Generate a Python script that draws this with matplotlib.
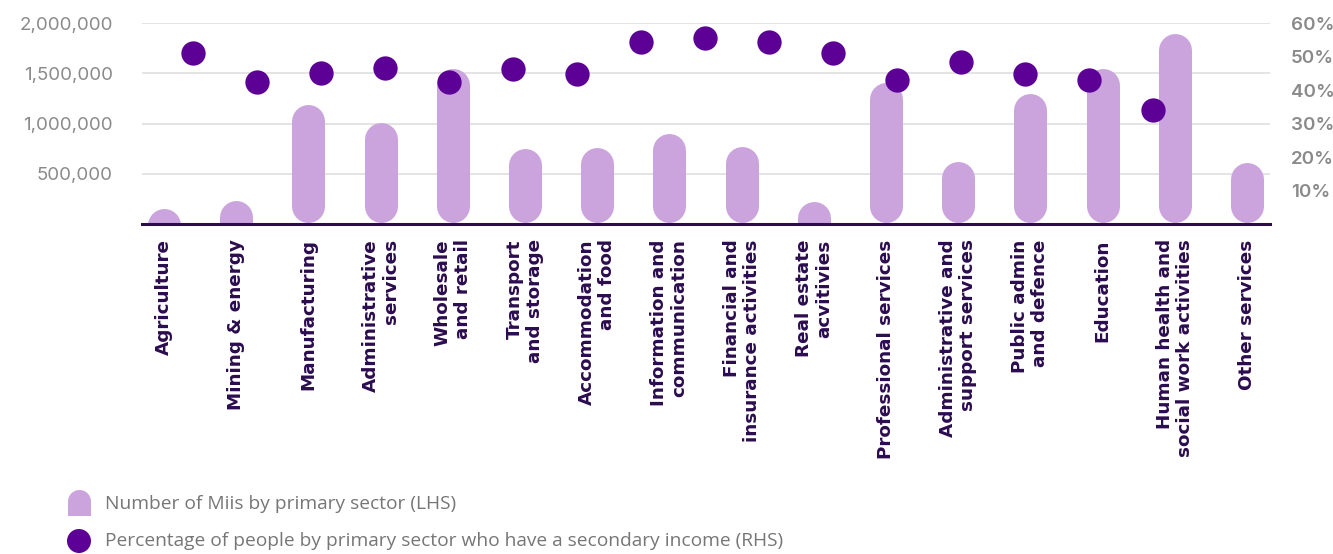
import matplotlib
matplotlib.use("Agg")
import matplotlib.pyplot as plt
from matplotlib.patches import Rectangle, Wedge, Circle

# ---- data -------------------------------------------------------------
sectors = [
    "Agriculture",
    "Mining & energy",
    "Manufacturing",
    "Administrative\nservices",
    "Wholesale\nand retail",
    "Transport\nand storage",
    "Accommodation\nand food",
    "Information and\ncommunication",
    "Financial and\ninsurance activities",
    "Real estate\nacvitivies",
    "Professional services",
    "Administrative and\nsupport services",
    "Public admin\nand defence",
    "Education",
    "Human health and\nsocial work activities",
    "Other services",
]
miis = [150000, 230000, 1190000, 1010000, 1550000, 755000, 765000, 905000,
        775000, 225000, 1410000, 625000, 1305000, 1545000, 1895000, 610000]
secondary_pct = [51.0, 42.4, 45.0, 46.6, 42.5, 46.2, 44.8, 54.3,
                 55.5, 54.4, 51.0, 43.0, 48.5, 44.8, 43.0, 34.0]
lhs_ticks = [500000, 1000000, 1500000, 2000000]
rhs_ticks = [10, 20, 30, 40, 50, 60]

# ---- style ------------------------------------------------------------
BAR = "#cba4de"
DOT = "#5c0096"
INK = "#2b0c4e"
GREY = "#8a8a8a"
GRID = "#e2e2e2"

W, H = 1333, 554
fig = plt.figure(figsize=(W / 100, H / 100), dpi=100)

# plot frame in pixels
pl, pr, pt, pb = 142, 1270, 23.3, 224
rect = [pl / W, 1 - pb / H, (pr - pl) / W, (pb - pt) / H]

YMAX = 2000000
ax = fig.add_axes(rect)
ax.set_xlim(-0.305, 15.318)
ax.set_ylim(0, YMAX)

# rounded "pill" bars drawn as thick round-capped strokes
bar_px = 33
px_to_y = YMAX / (pb - pt)
r = bar_px / 2 * px_to_y
gap = 1.5 * px_to_y
for i, v in enumerate(miis):
    top = v - r
    bottom = r + gap if top > r + gap else top - r
    ax.plot([i, i], [bottom, top], color=BAR, lw=bar_px * 72 / 100,
            solid_capstyle="round", zorder=2)

ax.axhline(0, color=INK, lw=2.2, zorder=4, clip_on=False)
ax.set_yticks(lhs_ticks)
ax.set_yticklabels([f"{t:,}" for t in lhs_ticks])
ax.grid(axis="y", color=GRID, lw=1.3)
ax.set_axisbelow(True)
for s in ax.spines.values():
    s.set_visible(False)
ax.tick_params(axis="y", length=0, pad=21, labelcolor=GREY, labelsize=13.5)
for lab in ax.get_yticklabels():
    lab.set_family("Inter")

ax.set_xticks(range(len(sectors)))
ax.set_xticklabels(sectors, rotation=90, fontsize=13.2, fontweight="bold",
                   color=INK, linespacing=1.15, multialignment="right",
                   family="DejaVu Sans")
ax.tick_params(axis="x", length=0, pad=11)

# percentage series on its own overlay axes (right-hand scale)
axd = fig.add_axes(rect, frameon=False, label="pct")
axd.set_xlim(-0.797, 16.828)
axd.set_ylim(0, 60)
axd.plot(range(len(secondary_pct)), secondary_pct, "o", ms=17.5, color=DOT,
         mec="none", zorder=5, clip_on=False)
axd.patch.set_visible(False)
axd.xaxis.set_visible(False)
axd.yaxis.tick_right()
axd.set_yticks(rhs_ticks)
axd.set_yticklabels([f"{t}%" for t in rhs_ticks])
axd.tick_params(axis="y", length=0, pad=15, labelcolor=GREY, labelsize=13.5)
for lab in axd.get_yticklabels():
    lab.set_family("Inter")
    lab.set_fontweight("semibold")

# legend drawn in pixel space
lg = fig.add_axes([0, 0, 1, 1], frameon=False, label="legend")
lg.set_xlim(0, W)
lg.set_ylim(0, H)
lg.axis("off")
lg.add_patch(Wedge((79.5, H - 501.5), 11.5, 0, 180, color=BAR, lw=0))
lg.add_patch(Rectangle((68, H - 516), 23, 14.6, color=BAR, lw=0))
lg.add_patch(Circle((79, H - 541), 12, color=DOT, lw=0))
lg.text(105, H - 504, "Number of Miis by primary sector (LHS)", va="center",
        fontsize=13.8, color="#767676", family="Open Sans")
lg.text(105, H - 541,
        "Percentage of people by primary sector who have a secondary income (RHS)",
        va="center", fontsize=13.8, color="#767676", family="Open Sans")

fig.savefig("out.png", dpi=100)
